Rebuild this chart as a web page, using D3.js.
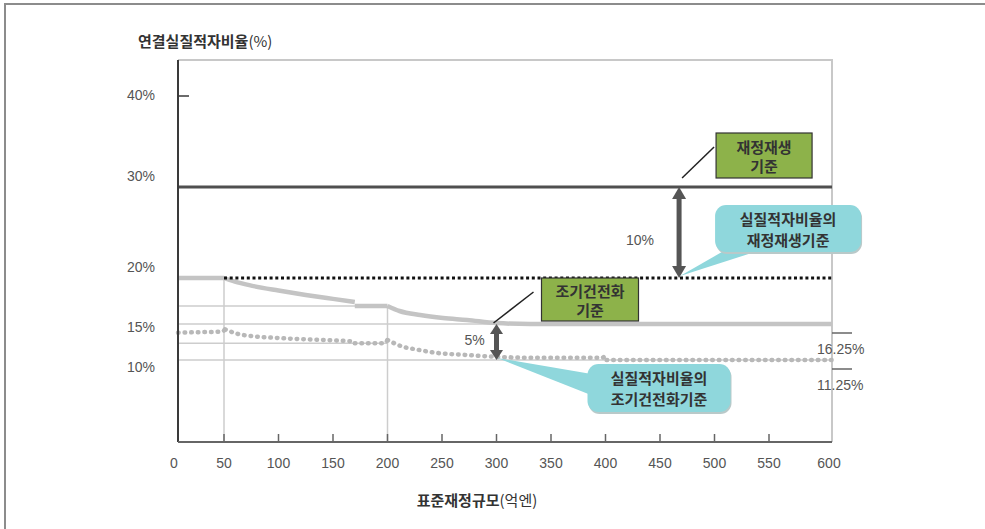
<!DOCTYPE html>
<html>
<head>
<meta charset="utf-8">
<script src="https://cdn.jsdelivr.net/npm/d3@7"></script>
<style>
  html, body { margin: 0; padding: 0; background: #fff; }
  svg { display: block; }
</style>
</head>
<body>
<svg id="chart" width="985" height="529"></svg>
<script>
// ---- data ---------------------------------------------------------------
// 표준재정규모 (억엔) tick values
const xTicks = [0, 50, 100, 150, 200, 250, 300, 350, 400, 450, 500, 550, 600];
// labelled percentages on the vertical axis
const yTickLabels = [40, 30, 20, 15, 10];

// 재정재생기준: 연결실질적자비율 and 실질적자비율
const rebuildConsolidated = 30;
const rebuildReal = 20;

// 조기건전화기준 (연결실질적자비율), drawn as separate pieces [규모, %]
const earlyConsolidated = [
  [[0, 20], [50, 20]],
  [[50, 20], [60, 19.7], [75, 19.38], [100, 18.98], [125, 18.62], [150, 18.3], [170, 18.05]],
  [[170, 17.72], [200, 17.72]],
  [[200, 17.72], [211, 17.31], [230, 16.98], [251, 16.74], [273, 16.58], [300, 16.33], [331, 16.25], [600, 16.25]]
];

// 실질적자비율의 조기건전화기준, same layout
const earlyReal = [
  [[0, 15.05], [25, 15.12], [48, 15.2], [51, 15.5]],
  [[51, 15.5], [62, 14.9], [77, 14.55], [100, 14.3], [125, 14.12], [150, 13.98], [170, 13.82]],
  [[170, 13.57], [197, 13.57], [200, 14.03]],
  [[200, 14.03], [214, 13.1], [227, 12.7], [242, 12.3], [273, 11.94], [297, 11.71], [334, 11.57], [397, 11.57], [400, 11.9]],
  [[401, 11.25], [600, 11.25]]
];

// thin guide lines: [level %, right end 규모]
const guideLevels = [[17.72, 200], [16.25, 600], [13.57, 200], [11.25, 600]];
// vertical guides: [규모, top level %]
const guideVerticals = [[50, 20], [200, 17.72]];

// end values marked on the right-hand side
const endLabels = [16.25, 11.25];

// gap arrows: [규모, upper %, lower %]
const gapWide = [467.5, rebuildConsolidated, rebuildReal];
const gapNarrow = [300, 16.25, 11.25];

// ---- layout -------------------------------------------------------------
const svg = d3.select("#chart");
const plotTop = 60, plotBottom = 442;

const x = d3.scaleLinear().domain([0, 50, 550, 600]).range([178, 224, 769, 832]);
const y = d3.scaleLinear().domain([11.25, 15, 16.25, 20, 40]).range([360, 333, 324, 278, 96]);

const numFont = "'Liberation Sans', Arial, sans-serif";
const korFont = "'Noto Sans CJK KR', 'Noto Sans', sans-serif";

svg.append("rect").attr("width", 985).attr("height", 529).attr("fill", "#fff");

// outer frame (left and top edges)
svg.append("path").attr("d", "M5,529V4H985")
  .attr("fill", "none").attr("stroke", "#8c8c8c").attr("stroke-width", 2);

// plot box: light top and right edges
svg.append("path")
  .attr("d", `M${x(0)},${plotTop}H${x(600)}V${plotBottom}`)
  .attr("fill", "none").attr("stroke", "#c8c8c8").attr("stroke-width", 2);

// guide lines
const guides = svg.append("g").attr("stroke", "#cdcdcd").attr("stroke-width", 1.5).attr("fill", "none");
guideLevels.forEach(([v, xe]) => {
  guides.append("line").attr("x1", x(0)).attr("x2", x(xe)).attr("y1", y(v)).attr("y2", y(v));
});
guideVerticals.forEach(([xv, v]) => {
  guides.append("line").attr("x1", x(xv)).attr("x2", x(xv)).attr("y1", y(v)).attr("y2", plotBottom);
});

const line = d3.line().x(d => x(d[0])).y(d => y(d[1])).curve(d3.curveMonotoneX);

// 실질적자비율 early standard: gray dots
svg.append("g").selectAll("path").data(earlyReal).join("path")
  .attr("d", line).attr("fill", "none")
  .attr("stroke", "#b8b8b8").attr("stroke-width", 4.5)
  .attr("stroke-linecap", "round").attr("stroke-dasharray", "0.6,6");

// 연결실질적자비율 early standard: thick gray line
svg.append("g").selectAll("path").data(earlyConsolidated).join("path")
  .attr("d", line).attr("fill", "none")
  .attr("stroke", "#c4c4c4").attr("stroke-width", 4.5);

// 재정재생기준 (30%)
svg.append("line")
  .attr("x1", x(0)).attr("x2", x(600))
  .attr("y1", y(rebuildConsolidated)).attr("y2", y(rebuildConsolidated))
  .attr("stroke", "#4f4f4f").attr("stroke-width", 3);

// 실질적자비율의 재정재생기준 (20%), black dotted
svg.append("line")
  .attr("x1", x(50)).attr("x2", x(600))
  .attr("y1", y(rebuildReal)).attr("y2", y(rebuildReal))
  .attr("stroke", "#111").attr("stroke-width", 3)
  .attr("stroke-dasharray", "3,2.7");

// axes
svg.append("line").attr("x1", x(0)).attr("x2", x(0)).attr("y1", plotTop).attr("y2", plotBottom)
  .attr("stroke", "#3a3a3a").attr("stroke-width", 2);
svg.append("line").attr("x1", x(0)).attr("x2", x(600)).attr("y1", plotBottom).attr("y2", plotBottom)
  .attr("stroke", "#666").attr("stroke-width", 2);

// x ticks (pointing into the plot) and labels
svg.append("g").selectAll("line").data(xTicks.filter(t => t > 0 && t < 600)).join("line")
  .attr("x1", d => x(d)).attr("x2", d => x(d))
  .attr("y1", plotBottom).attr("y2", plotBottom - 8)
  .attr("stroke", "#666").attr("stroke-width", 1.5);
svg.append("g").selectAll("text").data(xTicks).join("text")
  .attr("x", d => x(d) - (d === 0 ? 4 : 0) - (d === 600 ? 3 : 0))
  .attr("y", 463)
  .attr("text-anchor", "middle").attr("dominant-baseline", "central")
  .attr("font-family", numFont).attr("font-size", 14).attr("fill", "#555")
  .text(d => d);

// y labels
const yNudge = { 40: -1, 30: -11, 20: -11, 15: -6, 10: -2 };
svg.append("g").selectAll("text").data(yTickLabels).join("text")
  .attr("x", 155).attr("y", d => y(d) + yNudge[d])
  .attr("text-anchor", "end").attr("dominant-baseline", "central")
  .attr("font-family", numFont).attr("font-size", 14).attr("fill", "#555")
  .text(d => d + "%");
svg.append("line").attr("x1", x(0)).attr("x2", x(0) + 11).attr("y1", y(40)).attr("y2", y(40))
  .attr("stroke", "#3a3a3a").attr("stroke-width", 1.5);

// right-hand end values
endLabels.forEach(v => {
  svg.append("line").attr("x1", x(600)).attr("x2", x(600) + 20)
    .attr("y1", y(v) + 9).attr("y2", y(v) + 9)
    .attr("stroke", "#666").attr("stroke-width", 1.5);
  svg.append("text").attr("x", x(600) - 15).attr("y", y(v) + 25)
    .attr("dominant-baseline", "central")
    .attr("font-family", numFont).attr("font-size", 14).attr("fill", "#555")
    .text(v + "%");
});

// axis titles
const yTitle = svg.append("text").attr("x", 138).attr("y", 40)
  .attr("dominant-baseline", "central").attr("fill", "#333")
  .attr("font-family", korFont).attr("font-size", 15);
yTitle.append("tspan").attr("font-weight", 700).text("연결실질적자비율");
yTitle.append("tspan").attr("font-weight", 400).text("(%)");

const xTitle = svg.append("text").attr("x", 477).attr("y", 499)
  .attr("text-anchor", "middle").attr("dominant-baseline", "central").attr("fill", "#333")
  .attr("font-family", korFont).attr("font-size", 15);
xTitle.append("tspan").attr("font-weight", 700).text("표준재정규모");
xTitle.append("tspan").attr("font-weight", 400).text("(억엔)");

// double-headed gap arrows
function gapArrow([xv, hi, lo], headW, headH, shaftW) {
  const cx = x(xv), t = y(hi), b = y(lo);
  const g = svg.append("g").attr("fill", "#555");
  g.append("rect").attr("x", cx - shaftW / 2).attr("y", t + headH - 1)
    .attr("width", shaftW).attr("height", b - t - 2 * headH + 2);
  g.append("path").attr("d", `M${cx},${t}L${cx + headW / 2},${t + headH}L${cx - headW / 2},${t + headH}Z`);
  g.append("path").attr("d", `M${cx},${b}L${cx + headW / 2},${b - headH}L${cx - headW / 2},${b - headH}Z`);
  return { cx, t, b };
}
const wide = gapArrow(gapWide, 14, 12, 5);
const narrow = gapArrow(gapNarrow, 13, 10, 5);

function gapText(a, dx, dy, label) {
  svg.append("text").attr("x", a.cx + dx).attr("y", (a.t + a.b) / 2 + dy)
    .attr("text-anchor", "middle").attr("dominant-baseline", "central")
    .attr("font-family", numFont).attr("font-size", 14).attr("fill", "#555")
    .text(label);
}
gapText(wide, -39, 7, (gapWide[1] - gapWide[2]) + "%");
gapText(narrow, -22, -2, (gapNarrow[1] - gapNarrow[2]) + "%");

// callouts
function textLines(cx, cy, lines, gap) {
  const t = svg.append("text").attr("text-anchor", "middle")
    .attr("font-family", korFont).attr("font-size", 15).attr("font-weight", 700)
    .attr("fill", "#333");
  lines.forEach((s, i) => {
    t.append("tspan").attr("x", cx).attr("y", cy + (i - (lines.length - 1) / 2) * gap)
      .attr("dominant-baseline", "central").text(s);
  });
}
function greenBox(bx, by, w, h, from, to, lines) {
  svg.append("line").attr("x1", from[0]).attr("y1", from[1]).attr("x2", to[0]).attr("y2", to[1])
    .attr("stroke", "#222").attr("stroke-width", 1.5);
  svg.append("rect").attr("x", bx).attr("y", by).attr("width", w).attr("height", h)
    .attr("fill", "#8db24a").attr("stroke", "#333").attr("stroke-width", 1.2);
  textLines(bx + w / 2, by + h / 2, lines, 19);
}
function bubble(bx, by, w, h, tip, tailA, tailB, lines) {
  const r = 11;
  const g = svg.append("g");
  g.append("path")
    .attr("d", `M${tip[0]},${tip[1]}L${tailA[0]},${tailA[1]}L${tailB[0]},${tailB[1]}Z`)
    .attr("fill", "#8fd7dc");
  g.append("rect").attr("x", bx + 1).attr("y", by + 2).attr("width", w).attr("height", h)
    .attr("rx", r).attr("fill", "#b9c9c9");
  g.append("rect").attr("x", bx).attr("y", by).attr("width", w).attr("height", h)
    .attr("rx", r).attr("fill", "#8fd7dc");
  textLines(bx + w / 2, by + h / 2, lines, 21);
}

// 재정재생기준 callouts
greenBox(wide.cx + 37, wide.t - 54, 96, 45,
  [wide.cx + 3, wide.t - 9], [wide.cx + 35, wide.t - 40], ["재정재생", "기준"]);
bubble(wide.cx + 36, wide.t + 18, 146, 47,
  [wide.cx + 1, wide.b - 2], [wide.cx + 55, wide.t + 58], [wide.cx + 85, wide.t + 62],
  ["실질적자비율의", "재정재생기준"]);

// 조기건전화기준 callouts
greenBox(narrow.cx + 45, narrow.t - 46, 97, 43,
  [narrow.cx - 3, narrow.t - 1], [narrow.cx + 37, narrow.t - 32], ["조기건전화", "기준"]);
bubble(narrow.cx + 91, narrow.b + 4, 143, 48,
  [narrow.cx + 1, narrow.b - 2], [narrow.cx + 95, narrow.b + 14], [narrow.cx + 97, narrow.b + 36],
  ["실질적자비율의", "조기건전화기준"]);
</script>
</body>
</html>
